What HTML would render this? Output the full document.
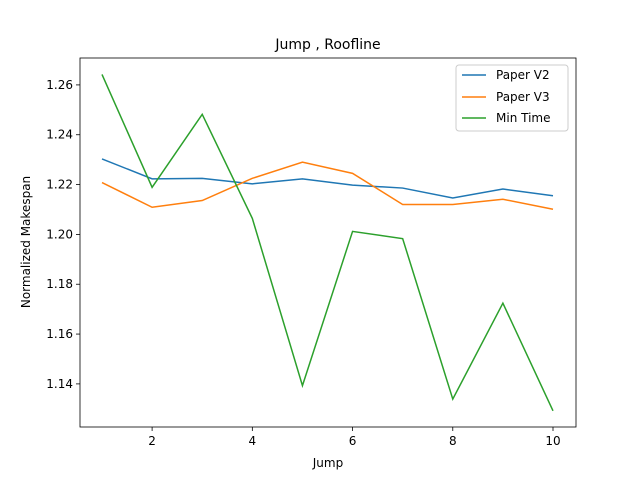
<!DOCTYPE html>
<html><head><meta charset="utf-8"><style>
body{margin:0;background:#fff;}
svg{display:block;font-family:"DejaVu Sans","Liberation Sans",sans-serif;}
</style></head><body>
<svg id="chart" width="640" height="480" viewBox="0 0 640 480">
<rect width="640" height="480" fill="#fff"/>
<text x="328" y="49" font-size="14" text-anchor="middle">Jump , Roofline</text>
<text x="328" y="467" font-size="12" text-anchor="middle">Jump</text>
<text x="30" y="242" font-size="12" text-anchor="middle" transform="rotate(-90 30 242)">Normalized Makespan</text>
<g id="plot"></g>
<rect x="80" y="58" width="496" height="369" fill="none" stroke="#000" stroke-width="0.8"/>
<g>
<rect x="456" y="65" width="112" height="66" rx="3" fill="#fff" fill-opacity="0.8" stroke="#ccc"/>
<line x1="462" y1="75" x2="486" y2="75" stroke="#1f77b4" stroke-width="1.5"/>
<text x="496" y="79" font-size="12">Paper V2</text>
<line x1="462" y1="97" x2="486" y2="97" stroke="#ff7f0e" stroke-width="1.5"/>
<text x="496" y="101" font-size="12">Paper V3</text>
<line x1="462" y1="118" x2="486" y2="118" stroke="#2ca02c" stroke-width="1.5"/>
<text x="496" y="122" font-size="12">Min Time</text>
</g>
</svg>
<script>
const jumps = [1,2,3,4,5,6,7,8,9,10];
const paperV2 = [1.2303,1.2223,1.2225,1.2203,1.2223,1.2198,1.2186,1.2146,1.2182,1.2155];
const paperV3 = [1.2208,1.2109,1.2136,1.2225,1.2290,1.2245,1.2120,1.2120,1.2141,1.2101];
const minTime = [1.2642,1.2189,1.2482,1.2064,1.1393,1.2012,1.1983,1.1339,1.1724,1.1292];
const xTicks = [2,4,6,8,10];
const yTicks = [1.14,1.16,1.18,1.20,1.22,1.24,1.26];
const X0=80,X1=576,Y0=427,Y1=58;
const xMin=0.561,xMax=10.459,yMin=1.1227,yMax=1.2708;
const sx=v=>X0+(v-xMin)/(xMax-xMin)*(X1-X0);
const sy=v=>Y0-(v-yMin)/(yMax-yMin)*(Y0-Y1);
const NS="http://www.w3.org/2000/svg";
const g=document.getElementById('plot');
function mk(t,a){const e=document.createElementNS(NS,t);for(const k in a)e.setAttribute(k,a[k]);g.appendChild(e);return e;}
xTicks.forEach(v=>{
  const l=mk('line',{x1:sx(v),x2:sx(v),y1:Y0,y2:Y0+4,stroke:'#000','stroke-width':0.8});
  
  
  const t=mk('text',{x:sx(v),y:Y0+18,'font-size':12,'text-anchor':'middle'});
  t.textContent=v;
  
  
});
yTicks.forEach(v=>{
  const l=mk('line',{x1:X0-4,x2:X0,y1:sy(v),y2:sy(v),stroke:'#000','stroke-width':0.8});
  
  
  const t=mk('text',{x:X0-7,y:sy(v)+4,'font-size':12,'text-anchor':'end'});
  t.textContent=v.toFixed(2);
  
  
});
[[paperV2,'#1f77b4','line-paper-v2'],[paperV3,'#ff7f0e','line-paper-v3'],[minTime,'#2ca02c','line-min-time']].forEach(([d,c,n])=>{
  const p=mk('polyline',{points:d.map((v,i)=>sx(jumps[i])+','+sy(v)).join(' '),fill:'none',stroke:c,'stroke-width':1.5});
  
  
});
</script>
</body></html>
